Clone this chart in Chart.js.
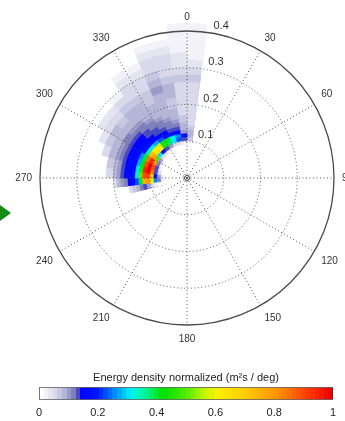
<!DOCTYPE html>
<html>
<head>
<meta charset="utf-8">
<script src="https://cdn.jsdelivr.net/npm/chart.js@4.4.1/dist/chart.umd.min.js"></script>
<style>
  html, body { margin: 0; padding: 0; background: #fff; overflow: hidden; }
  body { width: 345px; height: 421px; position: relative; }
  #polar { position: absolute; left: -13px; top: 11px; }
  #bar { position: absolute; left: 0; top: 360px; }
  .pointer {
    position: absolute; left: 0; top: 205px; width: 0; height: 0;
    border-left: 11px solid #148c14;
    border-top: 8px solid transparent;
    border-bottom: 8px solid transparent;
  }
</style>
</head>
<body>
<canvas id="polar" width="400" height="334"></canvas>
<canvas id="bar" width="345" height="70"></canvas>
<div class="pointer"></div>
<script>
(function () {
  'use strict';

  var FONT = '"Liberation Sans", Arial, Helvetica, sans-serif';

  // ── Data ──────────────────────────────────────────────────────────

  var SECTOR_WIDTH = 7.5;   // degrees per direction bin

  var directionTicks = ['0', '30', '60', '90', '120', '150', '180', '210', '240', '270', '300', '330'];
  var radialTicks = [0.1, 0.2, 0.3, 0.4];
  var colorbarTicks = [0, 0.2, 0.4, 0.6, 0.8, 1];

  // radial bin edges
  var ringEdges = [0.06, 0.07, 0.08, 0.09, 0.10, 0.11, 0.12, 0.13, 0.14, 0.15, 0.16, 0.17, 0.18, 0.19, 0.20,
                   0.22, 0.24, 0.26, 0.28, 0.30, 0.32, 0.34, 0.36, 0.38, 0.40, 0.42];

  // start direction (deg, clockwise from north) of each energy row
  var binDirections = [255, 262.5, 270, 277.5, 285, 292.5, 300, 307.5, 315, 322.5, 330, 337.5, 345, 352.5, 0];

  // normalized energy density, one row per direction bin, one value per radial bin
  var energy = [
    [0, 0, 0.03, 0.06, 0.10, 0.13, 0.11, 0.09, 0.07, 0.05, 0, 0, 0, 0, 0, 0, 0, 0, 0, 0, 0, 0, 0, 0, 0],
    [0.02, 0.12, 0.25, 0.60, 0.80, 0.75, 0.40, 0.22, 0.17, 0.15, 0.12, 0.10, 0.08, 0.05, 0, 0, 0, 0, 0, 0, 0, 0, 0, 0, 0],
    [0.02, 0.10, 0.20, 0.70, 0.92, 0.90, 0.50, 0.30, 0.18, 0.16, 0.16, 0.14, 0.10, 0.08, 0.05, 0, 0, 0, 0, 0, 0, 0, 0, 0, 0],
    [0, 0.05, 0.14, 0.85, 1.00, 0.95, 0.45, 0.30, 0.18, 0.16, 0.16, 0.14, 0.10, 0.09, 0.07, 0, 0, 0, 0, 0, 0, 0, 0, 0, 0],
    [0, 0.03, 0.13, 0.90, 1.00, 0.90, 0.42, 0.28, 0.18, 0.16, 0.16, 0.14, 0.11, 0.10, 0.08, 0.05, 0, 0, 0, 0, 0, 0, 0, 0, 0],
    [0, 0.02, 0.12, 0.80, 0.95, 0.85, 0.40, 0.25, 0.17, 0.16, 0.16, 0.14, 0.11, 0.10, 0.08, 0.07, 0.04, 0, 0, 0, 0, 0, 0, 0, 0],
    [0, 0.02, 0.10, 0.50, 0.78, 0.72, 0.35, 0.20, 0.16, 0.15, 0.15, 0.14, 0.12, 0.11, 0.09, 0.08, 0.06, 0.04, 0, 0, 0, 0, 0, 0, 0],
    [0, 0, 0.06, 0.30, 0.65, 0.62, 0.30, 0.18, 0.15, 0.15, 0.15, 0.13, 0.12, 0.10, 0.09, 0.07, 0.06, 0.04, 0, 0, 0, 0, 0, 0, 0],
    [0, 0, 0.04, 0.20, 0.60, 0.58, 0.28, 0.16, 0.15, 0.14, 0.13, 0.12, 0.11, 0.10, 0.09, 0.08, 0.07, 0.05, 0.03, 0, 0, 0, 0, 0, 0],
    [0, 0, 0.02, 0.14, 0.45, 0.45, 0.22, 0.15, 0.14, 0.13, 0.12, 0.11, 0.10, 0.09, 0.08, 0.08, 0.07, 0.06, 0.05, 0.04, 0.03, 0, 0, 0, 0],
    [0, 0, 0.01, 0.10, 0.38, 0.40, 0.20, 0.15, 0.14, 0.12, 0.11, 0.10, 0.09, 0.09, 0.08, 0.07, 0.07, 0.06, 0.05, 0.04, 0.03, 0, 0, 0, 0],
    [0, 0, 0, 0.06, 0.30, 0.32, 0.17, 0.14, 0.12, 0.11, 0.10, 0.09, 0.09, 0.08, 0.08, 0.09, 0.10, 0.08, 0.07, 0.06, 0.05, 0.04, 0.03, 0, 0],
    [0, 0, 0, 0.04, 0.22, 0.25, 0.15, 0.13, 0.11, 0.10, 0.09, 0.08, 0.08, 0.07, 0.07, 0.08, 0.09, 0.07, 0.06, 0.06, 0.05, 0.04, 0.03, 0, 0],
    [0, 0, 0, 0.02, 0.14, 0.16, 0.10, 0.09, 0.08, 0.07, 0.07, 0.06, 0.06, 0.06, 0.05, 0.05, 0.06, 0.07, 0.06, 0.04, 0.04, 0.03, 0.03, 0.02, 0.02],
    [0, 0, 0, 0, 0.07, 0.09, 0.08, 0.07, 0.06, 0.06, 0.06, 0.05, 0.05, 0.05, 0.05, 0.05, 0.06, 0.07, 0.06, 0.04, 0.03, 0.03, 0.02, 0.02, 0.02]
  ];

  // ── Colormap (64 levels, white → lavender → jet) ──────────────────

  var CMAP_POS = [0, 0.02, 0.05, 0.08, 0.11, 0.125, 0.135, 0.19, 0.26, 0.31, 0.36, 0.42, 0.50, 0.56, 0.61, 0.70, 0.82, 0.92, 1];
  var CMAP_RGB = [
    [255, 255, 255], [238, 238, 246], [215, 215, 234], [180, 180, 216], [130, 130, 190], [90, 90, 180],
    [0, 0, 255], [0, 20, 255], [0, 150, 255], [0, 245, 245], [0, 245, 150], [0, 225, 0],
    [80, 235, 0], [190, 245, 0], [255, 240, 0], [255, 205, 0], [255, 145, 0], [255, 60, 0], [240, 0, 0]
  ];
  var CMAP_LEVELS = 64;

  function interpColor(v) {
    for (var i = 1; i < CMAP_POS.length; i++) {
      if (v <= CMAP_POS[i]) {
        var t = (v - CMAP_POS[i - 1]) / (CMAP_POS[i] - CMAP_POS[i - 1]);
        var a = CMAP_RGB[i - 1], b = CMAP_RGB[i];
        return 'rgb(' + Math.round(a[0] + (b[0] - a[0]) * t) + ',' +
          Math.round(a[1] + (b[1] - a[1]) * t) + ',' +
          Math.round(a[2] + (b[2] - a[2]) * t) + ')';
      }
    }
    var last = CMAP_RGB[CMAP_RGB.length - 1];
    return 'rgb(' + last.join(',') + ')';
  }

  var cmap = [];
  for (var c = 0; c < CMAP_LEVELS; c++) cmap.push(interpColor(c / (CMAP_LEVELS - 1)));

  function colorFor(v) {
    return cmap[Math.min(CMAP_LEVELS - 1, Math.floor(v * CMAP_LEVELS))];
  }

  // ── Polar datasets: one layer per radial bin, innermost on top ────

  var nSectors = 360 / SECTOR_WIDTH;
  var sectorLabels = [];
  var rowOfSector = [];
  var lastRing = [];
  for (var j = 0; j < nSectors; j++) {
    var dir = j * SECTOR_WIDTH;
    sectorLabels.push(dir % 30 === 0 ? directionTicks[dir / 30] : '');
    var row = binDirections.indexOf(dir);
    rowOfSector.push(row);
    var last = -1;
    if (row >= 0) {
      for (var k0 = 0; k0 < energy[row].length; k0++) if (energy[row][k0] > 0) last = k0;
    }
    lastRing.push(last);
  }

  var TRANSPARENT = 'rgba(0,0,0,0)';
  var datasets = [];

  // white core inside the first radial bin
  datasets.push({
    data: sectorLabels.map(function () { return ringEdges[0]; }),
    backgroundColor: '#ffffff',
    borderColor: '#ffffff',
    borderWidth: 1
  });

  for (var k = 0; k < ringEdges.length - 1; k++) {
    var radii = [];
    var colors = [];
    var borders = [];
    for (var s = 0; s < nSectors; s++) {
      if (k > lastRing[s]) {
        radii.push(0);
        colors.push(TRANSPARENT);
        borders.push(TRANSPARENT);
      } else {
        var col = colorFor(energy[rowOfSector[s]][k]);
        radii.push(ringEdges[k + 1]);
        colors.push(col);
        borders.push(col);
      }
    }
    datasets.push({ data: radii, backgroundColor: colors, borderColor: borders, borderWidth: 1 });
  }

  // ── Radial tick labels + centre marker ────────────────────────────

  var radialLabelPlugin = {
    id: 'radialLabels',
    afterDraw: function (chart) {
      var r = chart.scales.r;
      var ctx = chart.ctx;
      var tilt = 8 * Math.PI / 180;
      ctx.save();
      ctx.font = '11px ' + FONT;
      ctx.fillStyle = '#333';
      ctx.textAlign = 'left';
      ctx.textBaseline = 'middle';
      radialTicks.forEach(function (v) {
        var d = r.getDistanceFromCenterForValue(v);
        ctx.fillText(v.toFixed(1), r.xCenter + d * Math.sin(tilt) + 6, r.yCenter - d * Math.cos(tilt) - 6.5);
      });
      ctx.beginPath();
      ctx.arc(r.xCenter, r.yCenter, 2.5, 0, 2 * Math.PI);
      ctx.strokeStyle = '#333';
      ctx.lineWidth = 1;
      ctx.stroke();
      ctx.restore();
    }
  };

  function isOuter(c) { return c.tick && c.tick.value > 0.399; }

  new Chart(document.getElementById('polar'), {
    type: 'polarArea',
    data: { labels: sectorLabels, datasets: datasets },
    options: {
      responsive: false,
      animation: false,
      events: [],
      layout: { padding: 0 },
      plugins: { legend: { display: false }, tooltip: { enabled: false } },
      scales: {
        r: {
          min: 0,
          max: 0.4,
          startAngle: 0,
          ticks: { display: false, stepSize: 0.1 },
          grid: {
            circular: true,
            z: 1,
            color: function (c) { return isOuter(c) ? '#4a4a4a' : '#555'; },
            lineWidth: function (c) { return isOuter(c) ? 1.3 : 1; }
          },
          border: { dash: function (c) { return isOuter(c) ? [] : [1, 2.5]; } },
          angleLines: {
            display: true,
            color: '#555',
            lineWidth: function (c) { return c.index % 4 === 0 ? 1 : 0; },
            borderDash: [1, 2.5]
          },
          pointLabels: {
            display: true,
            padding: 8,
            color: '#333',
            font: { family: FONT, size: 10 }
          }
        }
      }
    },
    plugins: [radialLabelPlugin]
  });

  // ── Colour bar ────────────────────────────────────────────────────

  function colorbarFill(context) {
    var chart = context.chart;
    if (!chart.chartArea) return null;
    var x = chart.scales.x;
    var g = chart.ctx.createLinearGradient(x.getPixelForValue(0), 0, x.getPixelForValue(1), 0);
    for (var i = 0; i < CMAP_LEVELS; i++) {
      g.addColorStop(i / CMAP_LEVELS, cmap[i]);
      g.addColorStop((i + 1) / CMAP_LEVELS, cmap[i]);
    }
    return g;
  }

  new Chart(document.getElementById('bar'), {
    type: 'bar',
    data: {
      labels: [''],
      datasets: [{
        data: [[0, 1]],
        backgroundColor: colorbarFill,
        borderColor: '#333',
        borderWidth: 1,
        borderSkipped: false,
        barPercentage: 1,
        categoryPercentage: 1
      }]
    },
    options: {
      indexAxis: 'y',
      responsive: false,
      animation: false,
      events: [],
      layout: { padding: { left: 39, right: 12, top: 11, bottom: 3 } },
      plugins: {
        legend: { display: false },
        tooltip: { enabled: false },
        title: {
          display: true,
          text: 'Energy density normalized (m²s / deg)',
          color: '#222',
          font: { family: FONT, size: 11, weight: 'normal' },
          padding: { top: 0, bottom: 3 }
        }
      },
      scales: {
        x: {
          type: 'linear',
          min: 0,
          max: 1,
          afterBuildTicks: function (scale) {
            scale.ticks = colorbarTicks.map(function (v) { return { value: v }; });
          },
          grid: { display: false, drawTicks: false },
          border: { display: false },
          ticks: {
            color: '#222',
            padding: 7,
            font: { family: FONT, size: 11 },
            callback: function (v) { return String(+v.toFixed(1)); }
          }
        },
        y: { display: false }
      }
    }
  });
})();
</script>
</body>
</html>
